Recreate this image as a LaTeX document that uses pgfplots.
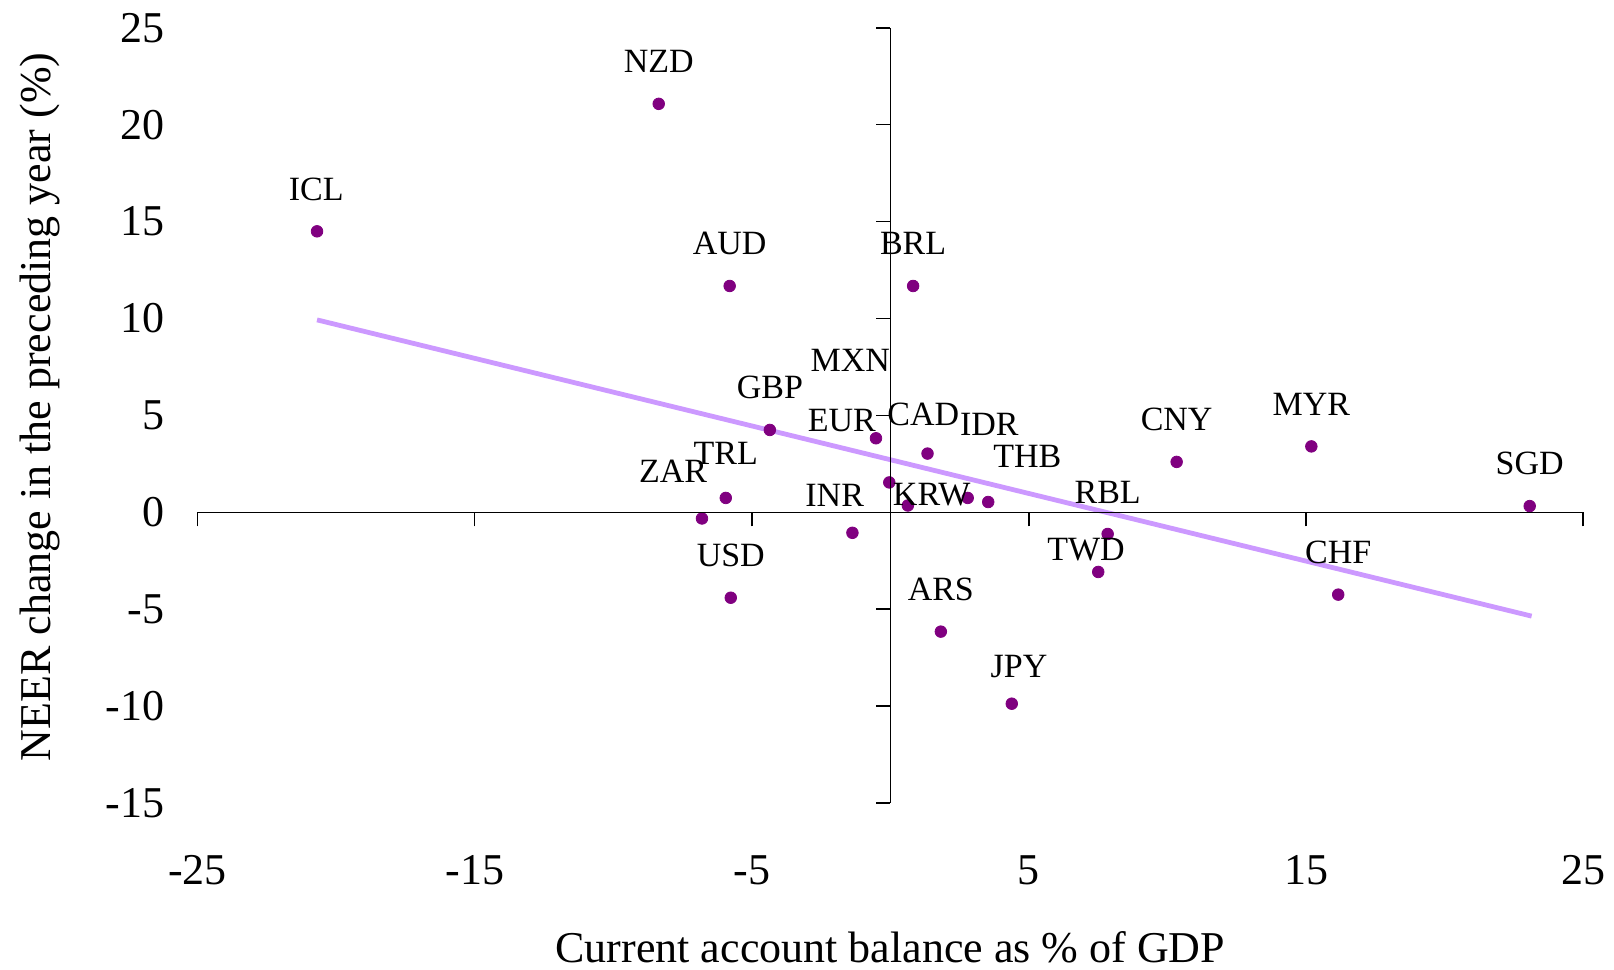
\documentclass[border=0pt]{standalone}
\usepackage{fontspec}
\setmainfont{Liberation Serif}
\usepackage{pgfplots}
\usepackage{pgfplotstable}
\pgfplotsset{compat=1.18}
\definecolor{dotpurple}{HTML}{800080}
\definecolor{trendlilac}{HTML}{CC99FF}

% x = current account % GDP, y = NEER change; lx/ly = where the label sits
\pgfplotstableread{
x      y      lx      ly     lab
-8.36  21.08  -8.36   23.26  NZD
-20.69 14.50  -20.72  16.68  ICL
-5.80  11.68  -5.80   13.86  AUD
0.82   11.68  0.82    13.86  BRL
-4.35  4.25   -4.35   6.43   GBP
-0.52  3.82   -1.75   4.73   EUR
1.34   3.03   1.19    5.05   CAD
-0.04  1.54   -1.45   7.86   MXN
0.63   0.35   1.49    0.90   KRW
2.79   0.74   3.57    4.51   IDR
3.53   0.53   4.94    2.87   THB
-5.94  0.74   -5.94   3.03   TRL
-6.80  -0.32  -7.84   2.12   ZAR
-1.37  -1.06  -2.01   0.85   INR
-5.76  -4.41  -5.76   -2.23  USD
1.82   -6.16  1.82    -3.98  ARS
4.38   -9.88  4.64    -7.97  JPY
7.50   -3.08  7.06    -1.91  TWD
7.84   -1.12  7.84    1.01   RBL
10.33  2.60   10.33   4.78   CNY
15.19  3.40   15.19   5.58   MYR
16.16  -4.25  16.16   -2.07  CHF
23.07  0.32   23.07   2.50   SGD
}\currencies

\begin{document}
\begin{tikzpicture}
\begin{axis}[
    name=ax,
    width=692.8pt, height=387.5pt, scale only axis,
    xmin=-25, xmax=25, ymin=-15, ymax=25,
    axis line style={draw=none},
    major tick length=0pt,
    xtick={-25,-15,...,25},
    ytick={-15,-10,...,25},
    /pgf/number format/assume math mode=true,
    tick label style={font=\fontsize{22}{26}\selectfont},
    xticklabel style={anchor=center, yshift=-33.5pt},
    yticklabel style={anchor=east, inner sep=0pt, xshift=-16.5pt},
    every axis x label/.style={at={(rel axis cs:0.5,-0.186)}, anchor=center},
    every axis y label/.style={at={(rel axis cs:-0.1140,0.511)}, rotate=90, anchor=center},
    label style={font=\fontsize{22}{26}\selectfont},
    xlabel={Current account balance as \% of GDP},
    ylabel={NEER change in the preceding year (\%)},
    clip=false,
]
\addplot[trendlilac, line width=2.4pt] coordinates {(-20.69,9.93) (23.14,-5.36)};
\addplot[only marks, mark=*, mark size=2.9pt, dotpurple] table[x=x, y=y] {\currencies};
\addplot[only marks, mark=none, nodes near coords, point meta=explicit symbolic,
    nodes near coords style={anchor=center, black, font=\fontsize{17}{20}\selectfont}]
    table[x=lx, y=ly, meta=lab] {\currencies};
\end{axis}
\begin{axis}[
    width=692.8pt, height=387.5pt, scale only axis,
    xmin=-25, xmax=25, ymin=-15, ymax=25,
    axis lines=middle,
    axis line style={-, black, line width=0.7pt},
    xtick={-25,-15,...,25},
    ytick={-15,-10,...,25},
    xticklabels={}, yticklabels={},
    tick align=outside,
    major tick length=7pt,
    tick style={black, line width=0.7pt},
]
\end{axis}
\pgfresetboundingbox
\path[use as bounding box] (ax.south west) ++(-98.8pt,-83.55pt) rectangle ++(807pt,485pt);
\end{tikzpicture}
\end{document}
